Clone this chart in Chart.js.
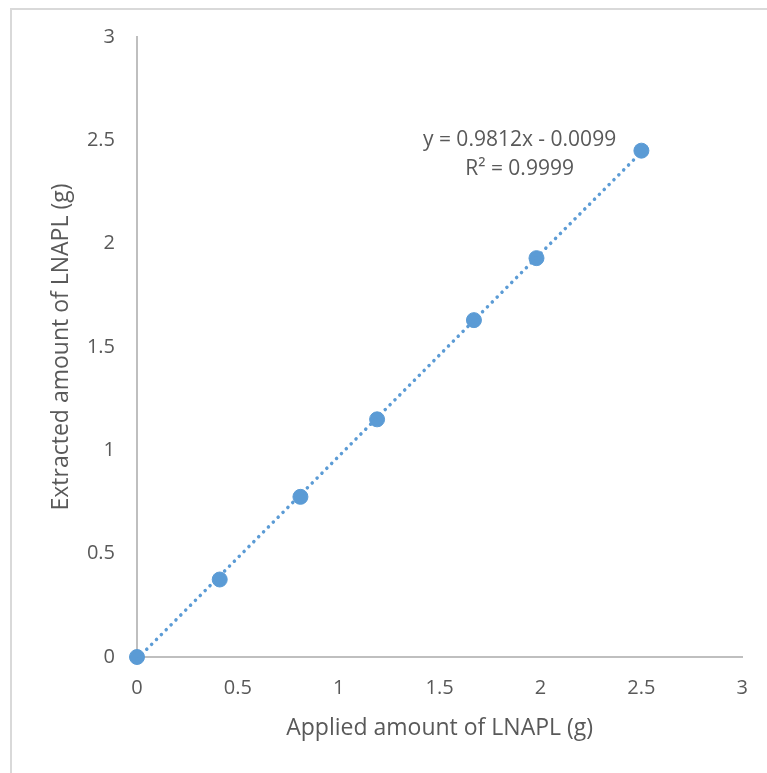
<!DOCTYPE html>
<html>
<head>
<meta charset="utf-8">
<script src="https://cdn.jsdelivr.net/npm/chart.js@4.4.1/dist/chart.umd.min.js"></script>
<style>
  html, body { margin: 0; padding: 0; background: #fff; overflow: hidden; }
  #frame {
    position: absolute; left: 10px; top: 8px;
    width: 800px; height: 800px;
    border: 2px solid #d9d9d9; box-sizing: border-box;
  }
  #wrap { position: absolute; left: 0; top: 0; width: 767px; height: 773px; }
</style>
</head>
<body>
<div id="frame"></div>
<div id="wrap"><canvas id="lnaplChart"></canvas></div>
<script>
// Applied vs. extracted LNAPL mass (g)
const appliedGrams = [0, 0.41, 0.81, 1.19, 1.67, 1.98, 2.5];
const extractedGrams = [0, 0.375, 0.775, 1.15, 1.63, 1.93, 2.45];

// Linear fit reported on the chart
const fitSlope = 0.9812;
const fitIntercept = -0.0099;
const fitLabel = ['y = 0.9812x - 0.0099', 'R\u00B2 = 0.9999'];

const axisTicks = [0, 0.5, 1, 1.5, 2, 2.5, 3];

const blue = '#5b9bd5';
const textGrey = '#595959';
const axisGrey = '#bfbfbf';
const fontFamily = "'Open Sans', sans-serif";

const fitStart = appliedGrams[0];
const fitEnd = appliedGrams[appliedGrams.length - 1];
const fitPoints = [
    { x: fitStart, y: fitSlope * fitStart + fitIntercept },
    { x: fitEnd, y: fitSlope * fitEnd + fitIntercept }
];

// draws the equation / R² text next to the last points
const fitTextPlugin = {
    id: 'fitText',
    afterDatasetsDraw(chart) {
        const { ctx, scales: { x, y } } = chart;
        ctx.save();
        ctx.font = `21px ${fontFamily}`;
        ctx.fillStyle = textGrey;
        ctx.textAlign = 'center';
        ctx.textBaseline = 'middle';
        const cx = x.getPixelForValue(1.896);
        ctx.fillText(fitLabel[0], cx, y.getPixelForValue(2.50));
        ctx.fillText(fitLabel[1], cx, y.getPixelForValue(2.36));
        ctx.restore();
    }
};

const tickFont = { family: fontFamily, size: 20 };
const titleFont = { family: fontFamily, size: 23 };

new Chart(document.getElementById('lnaplChart'), {
    type: 'scatter',
    data: {
        datasets: [
            {
                label: 'Measured',
                data: appliedGrams.map((v, i) => ({ x: v, y: extractedGrams[i] })),
                backgroundColor: blue,
                borderColor: blue,
                pointRadius: 7.5,
                pointHoverRadius: 7.5,
                clip: false,
                order: 2
            },
            {
                label: 'Linear fit',
                data: fitPoints,
                showLine: true,
                borderColor: blue,
                borderWidth: 3.5,
                borderDash: [0.1, 6.8],
                borderCapStyle: 'round',
                pointRadius: 0,
                fill: false,
                clip: false,
                order: 1
            }
        ]
    },
    options: {
        responsive: true,
        maintainAspectRatio: false,
        animation: false,
        layout: { padding: { left: 0, top: 37, right: 24, bottom: 0 } },
        plugins: { legend: { display: false }, tooltip: { enabled: false } },
        scales: {
            x: {
                type: 'linear',
                min: 0, max: 3,
                afterBuildTicks: (s) => { s.ticks = axisTicks.map(v => ({ value: v })); },
                afterFit: (s) => { s.height = 116; },
                grid: { display: false, drawTicks: false },
                border: { color: axisGrey, width: 2 },
                ticks: { padding: 19, color: textGrey, font: tickFont, callback: (v) => String(v) },
                title: {
                    display: true, text: 'Applied amount of LNAPL (g)', color: textGrey,
                    font: titleFont, padding: { top: 0, bottom: 31 }
                }
            },
            y: {
                type: 'linear',
                min: 0, max: 3,
                afterBuildTicks: (s) => { s.ticks = axisTicks.map(v => ({ value: v })); },
                afterFit: (s) => { s.width = 137; },
                grid: { display: false, drawTicks: false },
                border: { color: axisGrey, width: 2 },
                ticks: { padding: 22, color: textGrey, font: tickFont, callback: (v) => String(v) },
                title: {
                    display: true, text: 'Extracted amount of LNAPL (g)', color: textGrey,
                    font: titleFont, padding: { top: 48, bottom: 0 }
                }
            }
        }
    },
    plugins: [fitTextPlugin]
});
</script>
</body>
</html>
